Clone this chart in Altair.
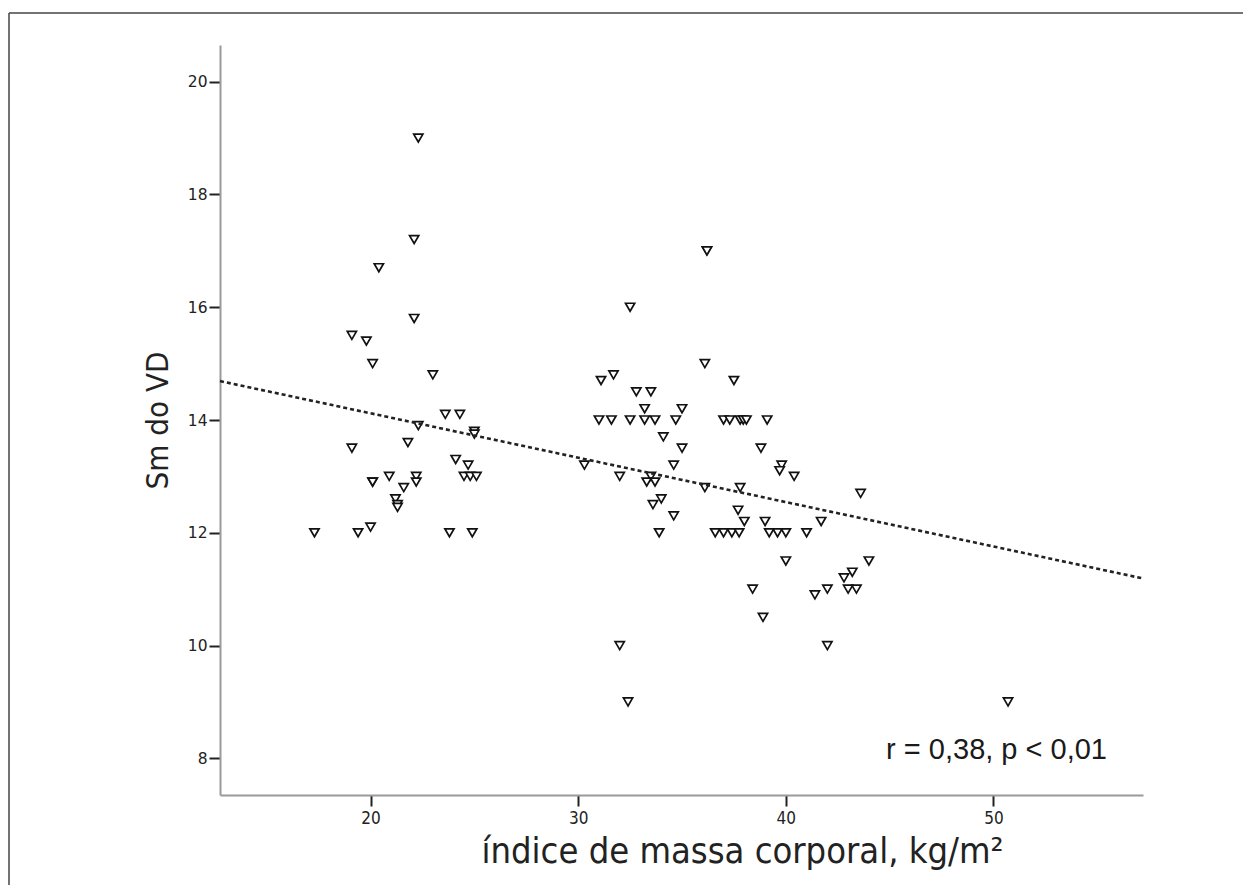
import altair as alt
import pandas as pd

# Body mass index (x) and RV Sm (y)
bmi = [22.3, 22.1, 20.4, 22.1, 19.1, 19.8, 20.1, 23.0, 23.6, 24.3,
       22.3, 25.0, 25.0, 19.1, 21.8, 24.1, 24.7, 24.5, 24.8, 25.1,
       20.9, 22.2, 22.2, 20.1, 20.1, 21.6, 21.2, 21.3, 21.3, 17.3,
       19.4, 20.0, 23.8, 24.9,
       36.2, 36.2, 32.5, 36.1, 37.5, 31.1, 31.7, 32.8, 33.5, 33.2,
       35.0, 31.0, 31.6, 32.5, 33.2, 33.7, 34.7, 37.0, 37.3, 37.8,
       37.95, 38.1, 39.1, 34.1, 35.0, 38.8, 34.6, 30.3, 32.0, 33.5,
       33.3, 33.7, 36.1, 37.8, 34.0, 33.6, 34.6, 33.9, 37.7, 38.0,
       36.6, 37.0, 37.4, 37.75, 38.4, 38.9, 32.0, 32.4, 39.8, 39.7,
       40.4, 43.6, 39.0, 41.7, 39.2, 39.6, 40.0, 41.0, 40.0, 44.0,
       43.2, 42.8, 41.4, 42.0, 43.0, 43.4, 42.0, 50.7]
sm = [19.0, 17.2, 16.7, 15.8, 15.5, 15.4, 15.0, 14.8, 14.1, 14.1,
      13.9, 13.8, 13.75, 13.5, 13.6, 13.3, 13.2, 13.0, 13.0, 13.0,
      13.0, 13.0, 12.9, 12.9, 12.9, 12.8, 12.6, 12.5, 12.45, 12.0,
      12.0, 12.1, 12.0, 12.0,
      17.0, 17.0, 16.0, 15.0, 14.7, 14.7, 14.8, 14.5, 14.5, 14.2,
      14.2, 14.0, 14.0, 14.0, 14.0, 14.0, 14.0, 14.0, 14.0, 14.0,
      14.0, 14.0, 14.0, 13.7, 13.5, 13.5, 13.2, 13.2, 13.0, 13.0,
      12.9, 12.9, 12.8, 12.8, 12.6, 12.5, 12.3, 12.0, 12.4, 12.2,
      12.0, 12.0, 12.0, 12.0, 11.0, 10.5, 10.0, 9.0, 13.2, 13.1,
      13.0, 12.7, 12.2, 12.2, 12.0, 12.0, 12.0, 12.0, 11.5, 11.5,
      11.3, 11.2, 10.9, 11.0, 11.0, 11.0, 10.0, 9.0]

# Fit line end points
fit_x = [12.75, 57.2]
fit_y = [14.69, 11.19]

x_domain = [12.75, 57.2]
y_domain = [7.35, 20.65]
x_ticks = [20, 30, 40, 50]
y_ticks = [8, 10, 12, 14, 16, 18, 20]

x_title = "índice de massa corporal, kg/m²"
y_title = "Sm do VD"
annotation = ["r = 0,38, p < 0,01"]

NARROW = "Liberation Sans Narrow, DejaVu Sans Condensed, sans-serif"
SANS = "Liberation Sans, Arial, sans-serif"

pts = pd.DataFrame({"bmi": bmi, "sm": sm})
fit = pd.DataFrame({"bmi": fit_x, "sm": fit_y})
note = pd.DataFrame({"t": annotation})
one = pd.DataFrame({"a": [0]})

xs = alt.Scale(domain=x_domain, nice=False, zero=False)
ys = alt.Scale(domain=y_domain, nice=False, zero=False)

x_enc = alt.X("bmi:Q", scale=xs,
              axis=alt.Axis(values=x_ticks, title=x_title, format="d",
                            labelFont=NARROW, labelFontSize=17, labelPadding=4,
                            titleFontSize=36, titlePadding=8, titleX=522,
                            ticks=True))
y_enc = alt.Y("sm:Q", scale=ys,
              axis=alt.Axis(values=y_ticks, title=y_title, format="d",
                            labelFont="DejaVu Sans", labelFontSize=15.5,
                            labelPadding=2, titleFontSize=31, titlePadding=13,
                            ticks=True))

points = alt.Chart(pts).mark_point(
    shape="triangle-down", filled=True, fill="white", stroke="#111111",
    strokeWidth=1.7, size=85, opacity=1
).encode(x=x_enc, y=y_enc)

line = alt.Chart(fit).mark_line(
    color="#222222", strokeWidth=2.6, strokeDash=[4, 3]
).encode(x=alt.X("bmi:Q", scale=xs), y=alt.Y("sm:Q", scale=ys))

text = alt.Chart(note).mark_text(
    align="right", baseline="alphabetic", fontSize=29, font=SANS, color="#1a1a1a"
).encode(x=alt.value(887), y=alt.value(714), text="t:N")

frame_left = alt.Chart(one).mark_rule(color="#444444", strokeWidth=1.5).encode(
    x=alt.value(-211), y=alt.value(-32), y2=alt.value(840))
frame_top = alt.Chart(one).mark_rule(color="#444444", strokeWidth=1.5).encode(
    x=alt.value(-211), x2=alt.value(1023), y=alt.value(-32))

chart = alt.layer(frame_left, frame_top, points, line, text).properties(
    width=923, height=750,
    autosize=alt.AutoSizeParams(type="none"),
    padding={"left": 212, "top": 37, "right": 100, "bottom": 90},
    background="white",
).configure_view(stroke=None).configure_axis(
    grid=False, domainColor="#9a9a9a", domainWidth=2, tickColor="#222222",
    tickWidth=2, tickSize=11, labelColor="#222222", titleColor="#222222",
    titleFont=NARROW, titleFontWeight="normal",
)

chart.save("out.html", embed_options={"renderer": "svg", "actions": False})
